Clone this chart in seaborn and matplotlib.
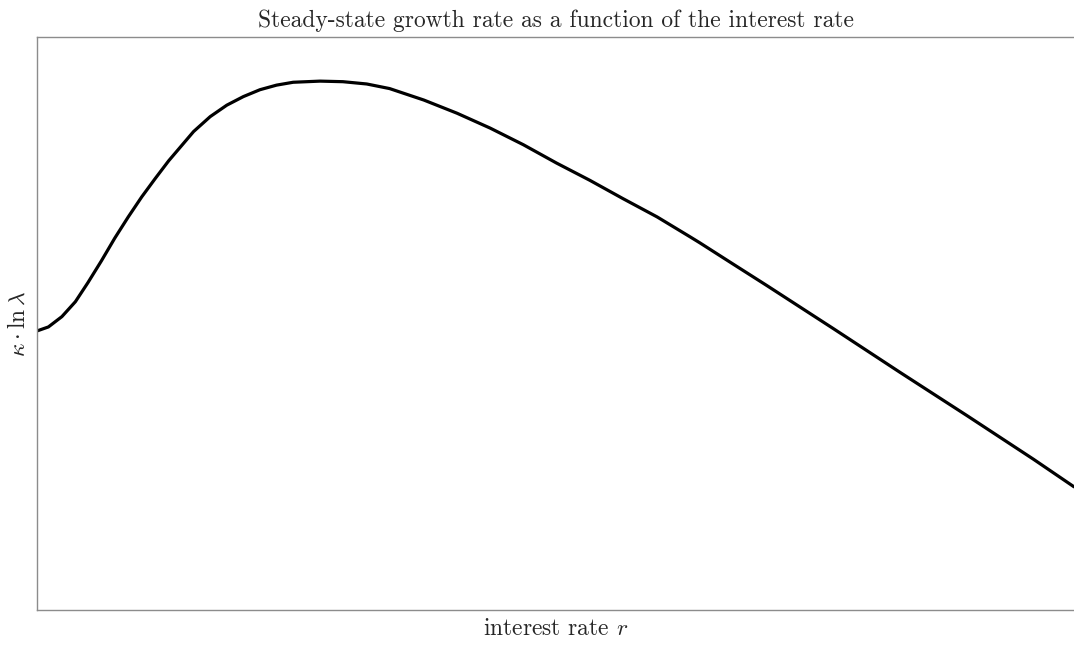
import matplotlib
matplotlib.use("Agg")
import matplotlib.pyplot as plt
import seaborn as sns
import pandas as pd

# interest rate (normalised units)
interest_rate = [0.000, 0.011, 0.024, 0.037, 0.049, 0.062, 0.075, 0.088, 0.101,
                 0.114, 0.127, 0.135, 0.151, 0.167, 0.183, 0.199, 0.215, 0.231,
                 0.247, 0.273, 0.295, 0.318, 0.340, 0.373, 0.405, 0.437, 0.469,
                 0.501, 0.533, 0.565, 0.598, 0.630, 0.639, 0.671, 0.704, 0.768,
                 0.832, 0.897, 0.961, 1.000]
# steady-state growth rate kappa * ln(lambda)
growth_rate = [0.487, 0.494, 0.512, 0.538, 0.571, 0.609, 0.649, 0.686, 0.721,
               0.753, 0.784, 0.801, 0.835, 0.861, 0.881, 0.896, 0.908, 0.916,
               0.921, 0.923, 0.922, 0.918, 0.910, 0.890, 0.867, 0.841, 0.812,
               0.780, 0.750, 0.718, 0.686, 0.651, 0.641, 0.604, 0.566, 0.491,
               0.415, 0.339, 0.263, 0.215]

sns.set_style("white")
plt.rcParams["font.family"] = "serif"
plt.rcParams["font.serif"] = ["cmr10", "DejaVu Serif"]
plt.rcParams["mathtext.fontset"] = "cm"
plt.rcParams["axes.formatter.use_mathtext"] = True

df = pd.DataFrame({"r": interest_rate, "g": growth_rate})

fig = plt.figure(figsize=(10.74, 6.46), dpi=100)
ax = fig.add_axes([37 / 1074, 36 / 646, 1 - 37 / 1074, (610 - 37) / 646])

sns.lineplot(data=df, x="r", y="g", ax=ax, color="black", linewidth=2.3)

ax.set_xlim(0, 1)
ax.set_ylim(0, 1)
ax.set_xticks([])
ax.set_yticks([])
for side in ["left", "bottom", "top"]:
    ax.spines[side].set_color("#8c8c8c")
    ax.spines[side].set_linewidth(1.0)
ax.spines["right"].set_visible(False)

ax.set_title("Steady-state growth rate as a function of the interest rate",
             fontsize=16.9, pad=7)
ax.set_xlabel(r"interest rate $r$", fontsize=16.9, labelpad=6)
ax.set_ylabel(r"$\kappa \cdot \ln \lambda$", fontsize=16.9, labelpad=5)

fig.savefig("out.png", dpi=100, facecolor="white")
